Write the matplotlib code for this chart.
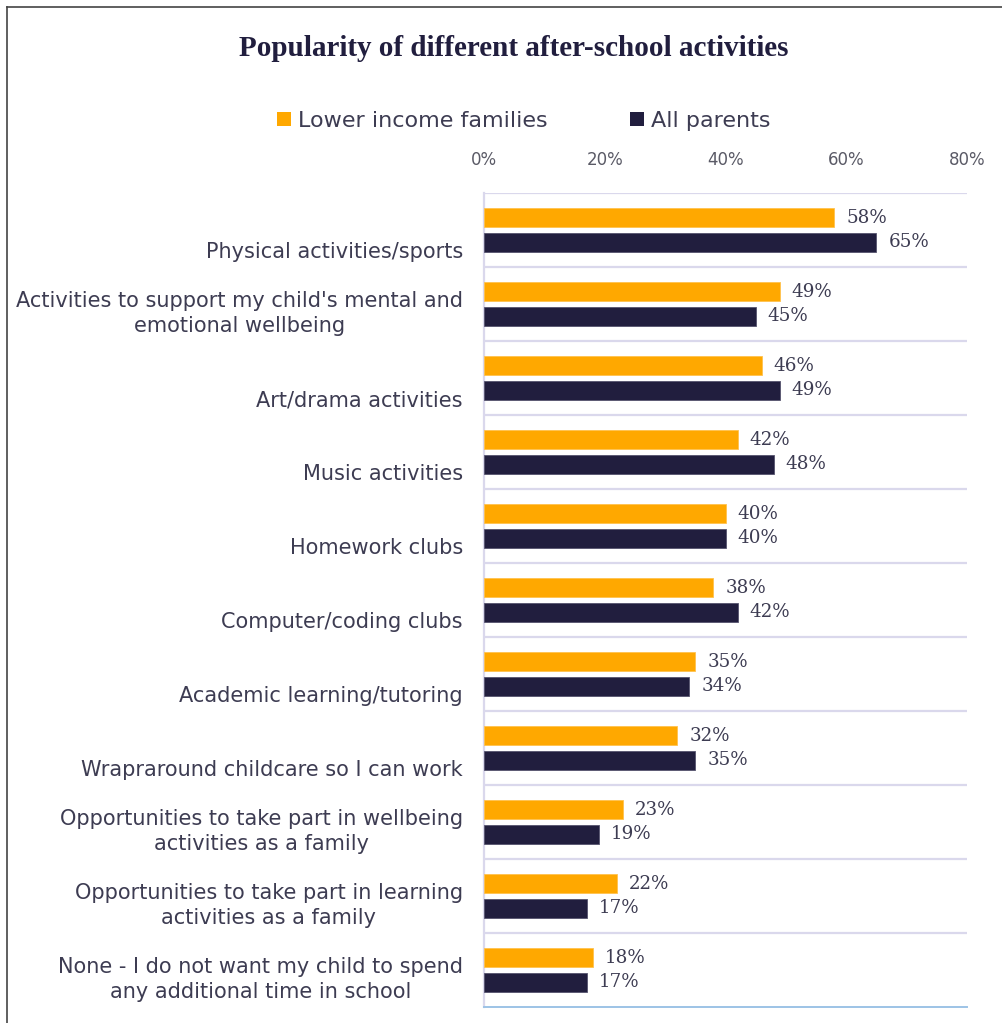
import matplotlib
matplotlib.use("Agg")
import matplotlib.pyplot as plt
import matplotlib.transforms as mtransforms
from matplotlib.lines import Line2D
from matplotlib.patches import Patch
import numpy as np

categories = [
    "Physical activities/sports",
    "Activities to support my child's mental and\nemotional wellbeing",
    "Art/drama activities",
    "Music activities",
    "Homework clubs",
    "Computer/coding clubs",
    "Academic learning/tutoring",
    "Wrapraround childcare so I can work",
    "Opportunities to take part in wellbeing\nactivities as a family",
    "Opportunities to take part in learning\nactivities as a family",
    "None - I do not want my child to spend\nany additional time in school",
]
lower_income = [58, 49, 46, 42, 40, 38, 35, 32, 23, 22, 18]
all_parents = [65, 45, 49, 48, 40, 42, 34, 35, 19, 17, 17]
series_names = ["Lower income families", "All parents"]
x_ticks = [0, 20, 40, 60, 80]
title = "Popularity of different after-school activities"

ORANGE = "#FFA800"
NAVY = "#211E3E"
GRID = "#DAD8EC"
TEXT = "#3D3C52"
TICK = "#5A5A66"

W, H = 1003, 1023
fig = plt.figure(figsize=(W / 100, H / 100), dpi=100)
fig.patch.set_facecolor("white")

left, right, top, bottom = 484, 967, 193, 1007
ax = fig.add_axes([left / W, 1 - bottom / H, (right - left) / W, (bottom - top) / H])

y = np.arange(len(categories))
bar_h = 0.257
off = 0.166
ax.barh(y - off, lower_income, height=bar_h, color=ORANGE, edgecolor="#FFC24D", linewidth=0.6, zorder=3)
ax.barh(y + off, all_parents, height=bar_h, color=NAVY, edgecolor="#55536E", linewidth=0.6, zorder=3)

ax.set_xlim(0, 80)
ax.set_ylim(len(categories) - 0.5, -0.5)

# value labels
val_font = dict(family="DejaVu Serif", fontsize=13.2, color=TEXT)
pad_pts = mtransforms.ScaledTranslation(12 / 100, 0, fig.dpi_scale_trans)
for i, (a, b) in enumerate(zip(lower_income, all_parents)):
    ax.text(a, i - off, f"{a}%", va="center", ha="left",
            transform=ax.transData + pad_pts, **val_font)
    ax.text(b, i + off, f"{b}%", va="center", ha="left",
            transform=ax.transData + pad_pts, **val_font)

# x axis on top
ax.xaxis.tick_top()
ax.set_xticks(x_ticks)
ax.set_xticklabels([f"{t}%" for t in x_ticks], fontsize=12, color=TICK, family="DejaVu Sans")
ax.tick_params(axis="x", length=0, pad=17)
ax.set_yticks([])

# category separators
for b in np.arange(-0.5, len(categories) - 0.5, 1.0):
    ax.axhline(b, color=GRID, linewidth=1.6, zorder=1)

for s in ["top", "right"]:
    ax.spines[s].set_visible(False)
ax.spines["left"].set_color(GRID)
ax.spines["left"].set_linewidth(1.6)
ax.spines["bottom"].set_color("#9DC3E6")
ax.spines["bottom"].set_linewidth(1.4)

# category labels, right aligned left of the axis
for i, lab in enumerate(categories):
    dy = -9.5 if "\n" in lab else -22
    tr = ax.get_yaxis_transform() + mtransforms.ScaledTranslation(-21 / 100, dy / 100, fig.dpi_scale_trans)
    ax.text(0, i, lab, transform=tr, ha="right", va="center", multialignment="center",
            fontsize=15, color=TEXT, family="DejaVu Sans", linespacing=1.35)

# title
fig.text(0.512, 1 - 48 / H, title, ha="center", va="center", fontsize=21,
         family="Liberation Serif", fontweight="bold", color=NAVY)

# legend
handles = [Patch(facecolor=ORANGE, edgecolor="none"), Patch(facecolor=NAVY, edgecolor="none")]
fig.legend(handles, series_names, loc="center", bbox_to_anchor=(524 / W, 1 - 121 / H),
           ncol=2, frameon=False, handlelength=0.6, handleheight=0.6, handletextpad=0.35,
           columnspacing=3.7, prop=dict(family="DejaVu Sans", size=16), labelcolor=TEXT)

# outer frame (top and left edges)
fig.add_artist(Line2D([7 / W, 7 / W], [0, 1 - 7 / H], transform=fig.transFigure, color="#444444", linewidth=1.2))
fig.add_artist(Line2D([7 / W, 1], [1 - 7 / H, 1 - 7 / H], transform=fig.transFigure, color="#444444", linewidth=1.2))

fig.savefig("out.png", dpi=100, facecolor="white")
